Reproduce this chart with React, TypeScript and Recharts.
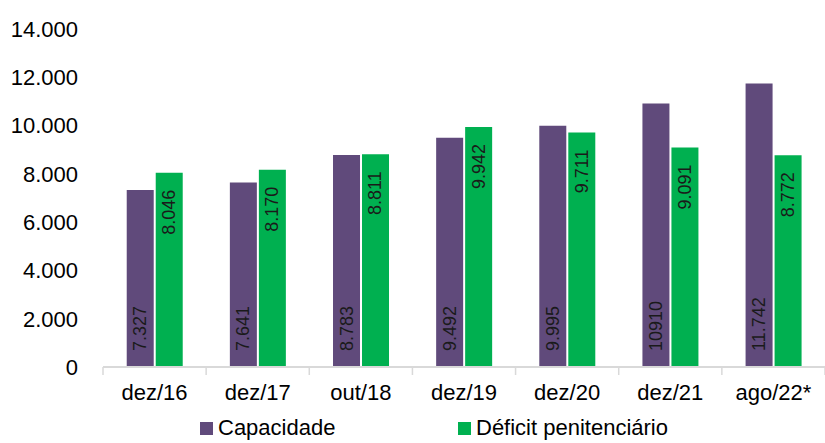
import React from 'react';
import { BarChart, Bar, XAxis, YAxis, Legend, LabelList } from 'recharts';

/* ─────── Dados ─────── */
const periodos = ['dez/16', 'dez/17', 'out/18', 'dez/19', 'dez/20', 'dez/21', 'ago/22*'];
const capacidade = [7327, 7641, 8783, 9492, 9995, 10910, 11742];
const deficit = [8046, 8170, 8811, 9942, 9711, 9091, 8772];
// rótulos como aparecem no original (10910 sem separador)
const capacidadeRotulos = ['7.327', '7.641', '8.783', '9.492', '9.995', '10910', '11.742'];
const deficitRotulos = ['8.046', '8.170', '8.811', '9.942', '9.711', '9.091', '8.772'];
const yTicks = [0, 2000, 4000, 6000, 8000, 10000, 12000, 14000];

const data = periodos.map((p, i) => ({
  periodo: p,
  capacidade: capacidade[i],
  deficit: deficit[i],
}));

/* ─────── Layout ─────── */
const W = 825;
const H = 443;
const Y_AXIS_W = 103;
const BAND = (W - Y_AXIS_W) / periodos.length;
const FONT = '"Liberation Sans", Arial, sans-serif';
const ROXO = '#604A7B';
const VERDE = '#00B050';
const EIXO = '#D9D9D9';

const fmtMil = (v: number) => String(v).replace(/\B(?=(\d{3})+(?!\d))/g, '.');

/* tick do eixo X: rótulo centrado + marcas entre categorias */
function CategoryTick(props: any) {
  const { x, y, payload, index } = props;
  const left = x - BAND / 2;
  const right = x + BAND / 2;
  return (
    <g>
      <line x1={left} y1={y - 8} x2={left} y2={y} stroke={EIXO} strokeWidth={1.5} />
      {index === periodos.length - 1 && (
        <line x1={right} y1={y - 8} x2={right} y2={y} stroke={EIXO} strokeWidth={1.5} />
      )}
      <text x={x} y={y + 25} textAnchor="middle" fill="#000" fontSize={22} fontFamily={FONT}>
        {payload.value}
      </text>
    </g>
  );
}

const makeLabel = (rotulos: string[], pos: 'bottom' | 'top') => (props: any) => {
  const { x, y, width, height, index } = props;
  const cx = x + width / 2;
  const cy = pos === 'bottom' ? y + height - 16 : y + 17;
  return (
    <text
      x={cx} y={cy}
      transform={`rotate(-90, ${cx}, ${cy})`}
      textAnchor={pos === 'bottom' ? 'start' : 'end'}
      dominantBaseline="central"
      fill="#1a1a1a" fontSize={18} fontFamily={FONT}
    >
      {rotulos[index]}
    </text>
  );
};

function Legenda() {
  const itens = [
    { nome: 'Capacidade', cor: ROXO, largura: 258 },
    { nome: 'Déficit penitenciário', cor: VERDE, largura: 260 },
  ];
  return (
    <div style={{ display: 'flex', paddingLeft: 200, fontFamily: FONT, fontSize: 22, color: '#000', lineHeight: '30px' }}>
      {itens.map((it) => (
        <div key={it.nome} style={{ width: it.largura, display: 'flex', alignItems: 'center', gap: 5 }}>
          <span style={{ width: 13, height: 13, background: it.cor, display: 'inline-block' }} />
          <span>{it.nome}</span>
        </div>
      ))}
    </div>
  );
}

export default function App() {
  return (
    <div style={{ position: 'absolute', left: 0, top: 0, width: W, height: H, background: '#fff' }}>
      <BarChart
        width={W} height={H} data={data}
        margin={{ top: 29, right: 0, left: 0, bottom: 0 }}
        barCategoryGap="23%" barGap={2}
      >
        <XAxis
          dataKey="periodo"
          axisLine={{ stroke: EIXO, strokeWidth: 2 }}
          tickLine={false}
          height={46}
          tick={<CategoryTick />}
          interval={0}
        />
        <YAxis
          domain={[0, 14000]}
          ticks={yTicks}
          tickFormatter={fmtMil}
          axisLine={false}
          tickLine={false}
          tickMargin={19}
          width={Y_AXIS_W}
          tick={{ fill: '#000', fontSize: 22, fontFamily: FONT }}
          interval={0}
        />
        <Legend verticalAlign="bottom" height={30} content={() => <Legenda />} />
        <Bar dataKey="capacidade" name="Capacidade" fill={ROXO} isAnimationActive={false}>
          <LabelList dataKey="capacidade" content={makeLabel(capacidadeRotulos, 'bottom')} />
        </Bar>
        <Bar dataKey="deficit" name="Déficit penitenciário" fill={VERDE} isAnimationActive={false}>
          <LabelList dataKey="deficit" content={makeLabel(deficitRotulos, 'top')} />
        </Bar>
      </BarChart>
    </div>
  );
}
